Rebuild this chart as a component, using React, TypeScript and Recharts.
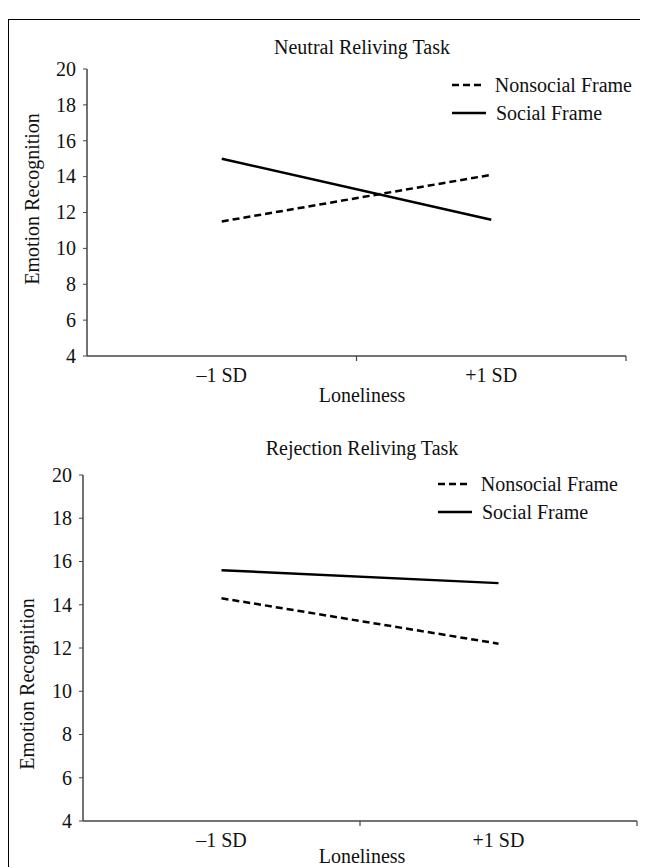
import React from "react";
import { LineChart, Line, XAxis, YAxis, Legend } from "recharts";

const FONT = "'Liberation Serif', 'Times New Roman', Times, serif";
const INK = "#111";
const AXIS = "#444";
const FS = 20;

// ── data ─────────────────────────────────────────────────────────────────────
const LONELINESS = ["\u20131 SD", "+1 SD"];
const Y_TICKS = [4, 6, 8, 10, 12, 14, 16, 18, 20];

const NEUTRAL_NONSOCIAL = [11.5, 14.1];
const NEUTRAL_SOCIAL = [15.0, 11.6];

const REJECTION_NONSOCIAL = [14.3, 12.2];
const REJECTION_SOCIAL = [15.6, 15.0];

const SERIES = [
  { key: "nonsocial", name: "Nonsocial Frame", dash: "7 4" },
  { key: "social", name: "Social Frame", dash: undefined as string | undefined },
];

const toRows = (nonsocial: number[], social: number[]) =>
  LONELINESS.map((cat, i) => ({ cat, nonsocial: nonsocial[i], social: social[i] }));

// ── pieces ───────────────────────────────────────────────────────────────────
// label in the middle of each category, tick mark on the band boundary
function BandTick(props: any) {
  const { x, y, payload, half } = props;
  const axisY = y - 6;
  return (
    <g>
      <line x1={x + half} x2={x + half} y1={axisY} y2={axisY + 5} stroke={AXIS} strokeWidth={1.2} />
      <text x={x} y={y} dy={20} textAnchor="middle" fontSize={FS} fontFamily={FONT} fill={INK}>
        {payload.value}
      </text>
    </g>
  );
}

function ValueTick(props: any) {
  const { x, y, payload } = props;
  return (
    <text x={x} y={y} dy="0.34em" textAnchor="end" fontSize={FS} fontFamily={FONT} fill={INK}>
      {payload.value}
    </text>
  );
}

function FrameLegend({ payload }: any) {
  return (
    <div style={{ fontFamily: FONT, fontSize: FS, color: INK }}>
      {(payload || []).map((e: any) => {
        const s = SERIES.find((d) => d.key === e.dataKey);
        return (
          <div key={e.value} style={{ display: "flex", alignItems: "center", height: 28 }}>
            <svg width={34} height={6}>
              <line x1={0} x2={34} y1={3} y2={3} stroke="#000" strokeWidth={2.5} strokeDasharray={s?.dash} />
            </svg>
            <span style={{ marginLeft: 10, lineHeight: "28px", whiteSpace: "nowrap" }}>{e.value}</span>
          </div>
        );
      })}
    </div>
  );
}

const textStyle: React.CSSProperties = {
  position: "absolute",
  fontFamily: FONT,
  fontSize: FS,
  lineHeight: "22px",
  color: INK,
  whiteSpace: "nowrap",
};

type PanelLayout = {
  top: number;
  width: number;
  height: number;
  margin: { top: number; right: number; bottom: number; left: number };
  legend: { left: number; top: number };
  titleY: number;
  xTitleY: number;
  yTitle: { x: number; y: number };
};

function Panel({ title, rows, lay }: { title: string; rows: any[]; lay: PanelLayout }) {
  const plotW = lay.width - lay.margin.left - lay.margin.right - 60;
  const half = plotW / 4;
  return (
    <>
      <div style={{ ...textStyle, left: 153, width: 400, textAlign: "center", top: lay.titleY }}>{title}</div>
      <div style={{ ...textStyle, left: 153, width: 400, textAlign: "center", top: lay.xTitleY }}>Loneliness</div>
      <div
        style={{
          ...textStyle,
          left: lay.yTitle.x,
          top: lay.yTitle.y,
          transform: "translate(-50%, -50%) rotate(-90deg)",
        }}
      >
        Emotion Recognition
      </div>
      <div style={{ position: "absolute", left: 0, top: lay.top }}>
        <LineChart width={lay.width} height={lay.height} data={rows} margin={lay.margin}>
          <XAxis
            dataKey="cat"
            height={30}
            padding={{ left: half, right: half }}
            axisLine={{ stroke: AXIS, strokeWidth: 1.5 }}
            tickLine={false}
            tickSize={4}
            tickMargin={2}
            tick={(p: any) => <BandTick {...p} half={half} />}
            interval={0}
          />
          <YAxis
            width={60}
            domain={[4, 20]}
            ticks={Y_TICKS}
            interval={0}
            axisLine={{ stroke: AXIS, strokeWidth: 1.5 }}
            tickLine={{ stroke: AXIS }}
            tickSize={4}
            tickMargin={7}
            tick={<ValueTick />}
          />
          <Legend
            layout="vertical"
            align="center"
            verticalAlign="middle"
            content={<FrameLegend />}
            wrapperStyle={{ left: lay.legend.left, top: lay.legend.top, width: 180 }}
          />
          {SERIES.map((s) => (
            <Line
              key={s.key}
              type="linear"
              dataKey={s.key}
              name={s.name}
              stroke="#000"
              strokeWidth={2.5}
              strokeDasharray={s.dash}
              dot={false}
              activeDot={false}
              isAnimationActive={false}
            />
          ))}
        </LineChart>
      </div>
    </>
  );
}

const NEUTRAL_LAYOUT: PanelLayout = {
  top: 0,
  width: 630,
  height: 400,
  margin: { top: 49, right: 13, bottom: 34, left: 18 },
  legend: { left: 443, top: 51 },
  titleY: 16,
  xTitleY: 364,
  yTitle: { x: 23, y: 179 },
};

const REJECTION_LAYOUT: PanelLayout = {
  top: 420,
  width: 636,
  height: 430,
  margin: { top: 35, right: 8, bottom: 19, left: 14 },
  legend: { left: 429, top: 30 },
  titleY: 417,
  xTitleY: 825,
  yTitle: { x: 18, y: 664 },
};

export default function App() {
  return (
    <div
      style={{
        position: "relative",
        width: 639,
        height: 855,
        marginTop: 11,
        marginBottom: -8,
        borderTop: "1px solid #000",
        borderLeft: "1px solid #000",
        background: "#fff",
        overflow: "hidden",
      }}
    >
      <Panel title="Neutral Reliving Task" rows={toRows(NEUTRAL_NONSOCIAL, NEUTRAL_SOCIAL)} lay={NEUTRAL_LAYOUT} />
      <Panel
        title="Rejection Reliving Task"
        rows={toRows(REJECTION_NONSOCIAL, REJECTION_SOCIAL)}
        lay={REJECTION_LAYOUT}
      />
    </div>
  );
}
